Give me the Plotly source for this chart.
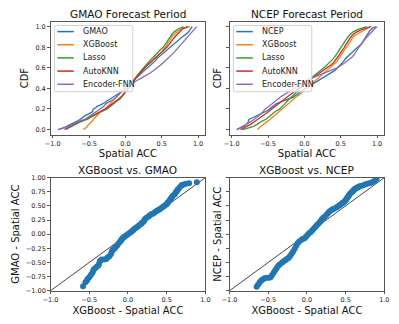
import numpy as np
import plotly.graph_objects as go

# 图像尺寸
W, H = 399, 324

# ---- GMAO 预报期 (排序后的 Spatial ACC) ----
gmao = [-0.92, -0.85, -0.82, -0.79, -0.76, -0.72, -0.68, -0.65, -0.62, -0.60,
        -0.57, -0.55, -0.51, -0.47, -0.45, -0.45, -0.44, -0.41, -0.39, -0.35,
        -0.31, -0.28, -0.26, -0.23, -0.20, -0.16, -0.13, -0.11, -0.09, -0.07,
        -0.05, -0.04, -0.02, 0.00, 0.02, 0.04, 0.06, 0.08, 0.10, 0.12,
        0.14, 0.16, 0.18, 0.20, 0.22, 0.24, 0.27, 0.29, 0.31, 0.33,
        0.35, 0.36, 0.38, 0.40, 0.42, 0.43, 0.45, 0.47, 0.49, 0.51,
        0.53, 0.55, 0.57, 0.60, 0.62, 0.64, 0.66, 0.68, 0.70, 0.72,
        0.74, 0.76, 0.78, 0.80, 0.83, 0.86, 0.87, 0.88, 0.89, 0.90, 0.92]
xgb_gmao = [-0.58, -0.55, -0.53, -0.52, -0.50, -0.48, -0.46, -0.45, -0.44, -0.42,
            -0.40, -0.38, -0.37, -0.36, -0.34, -0.31, -0.28, -0.26, -0.24, -0.22,
            -0.21, -0.20, -0.18, -0.16, -0.14, -0.12, -0.10, -0.09, -0.08, -0.07,
            -0.05, -0.04, -0.02, 0.00, 0.02, 0.04, 0.06, 0.07, 0.09, 0.11,
            0.13, 0.15, 0.17, 0.18, 0.20, 0.21, 0.22, 0.24, 0.26, 0.28,
            0.30, 0.32, 0.34, 0.36, 0.38, 0.40, 0.42, 0.44, 0.46, 0.48,
            0.50, 0.51, 0.52, 0.54, 0.55, 0.56, 0.57, 0.58, 0.60, 0.61,
            0.62, 0.63, 0.64, 0.65, 0.67, 0.69, 0.70, 0.72, 0.75, 0.79, 0.89]
lasso_gmao = [-0.82, -0.76, -0.70, -0.62, -0.52, -0.46, -0.40, -0.33, -0.25, -0.21,
              -0.17, -0.12, -0.07, -0.04, -0.01, 0.02, 0.05, 0.07, 0.09, 0.12,
              0.14, 0.16, 0.19, 0.21, 0.24, 0.27, 0.30, 0.34, 0.38, 0.41,
              0.44, 0.48, 0.52, 0.55, 0.57, 0.59, 0.61, 0.64, 0.67, 0.72, 0.80]
knn_gmao = [-0.84, -0.78, -0.70, -0.64, -0.55, -0.48, -0.42, -0.36, -0.28, -0.23,
            -0.18, -0.13, -0.09, -0.05, -0.02, 0.01, 0.04, 0.07, 0.10, 0.12,
            0.14, 0.17, 0.20, 0.23, 0.27, 0.30, 0.34, 0.38, 0.42, 0.46,
            0.49, 0.53, 0.57, 0.60, 0.62, 0.65, 0.68, 0.71, 0.74, 0.78, 0.86]
enc_gmao = [-0.93, -0.80, -0.72, -0.66, -0.56, -0.50, -0.45, -0.40, -0.34, -0.30,
            -0.27, -0.20, -0.15, -0.11, -0.08, -0.03, 0.02, 0.06, 0.10, 0.15,
            0.22, 0.29, 0.34, 0.39, 0.44, 0.48, 0.52, 0.56, 0.60, 0.64,
            0.67, 0.70, 0.73, 0.76, 0.79, 0.82, 0.85, 0.88, 0.91, 0.95, 0.98]

# ---- NCEP 预报期 ----
ncep = [-0.93, -0.89, -0.85, -0.82, -0.80, -0.78, -0.77, -0.77, -0.76, -0.72,
        -0.68, -0.64, -0.60, -0.56, -0.53, -0.50, -0.48, -0.46, -0.44, -0.42,
        -0.39, -0.35, -0.31, -0.26, -0.21, -0.16, -0.13, -0.10, -0.08, -0.07,
        -0.04, -0.01, 0.02, 0.04, 0.07, 0.10, 0.13, 0.16, 0.19, 0.22,
        0.26, 0.29, 0.31, 0.34, 0.37, 0.40, 0.42, 0.44, 0.45, 0.47,
        0.49, 0.51, 0.52, 0.54, 0.55, 0.56, 0.58, 0.60, 0.62, 0.64,
        0.66, 0.68, 0.70, 0.72, 0.74, 0.76, 0.77, 0.79, 0.80, 0.81,
        0.82, 0.83, 0.84, 0.85, 0.86, 0.88, 0.89, 0.90, 0.92, 0.94, 0.98]
xgb_ncep = [-0.65, -0.63, -0.61, -0.59, -0.57, -0.55, -0.52, -0.49, -0.47, -0.45,
            -0.43, -0.41, -0.39, -0.37, -0.35, -0.32, -0.30, -0.28, -0.26, -0.24,
            -0.22, -0.20, -0.18, -0.16, -0.14, -0.12, -0.10, -0.07, -0.05, -0.03,
            -0.01, 0.01, 0.03, 0.05, 0.07, 0.09, 0.11, 0.13, 0.15, 0.17,
            0.19, 0.21, 0.23, 0.25, 0.27, 0.29, 0.31, 0.33, 0.35, 0.38,
            0.40, 0.42, 0.43, 0.45, 0.46, 0.47, 0.49, 0.50, 0.51, 0.52,
            0.53, 0.54, 0.55, 0.56, 0.58, 0.59, 0.60, 0.61, 0.62, 0.63,
            0.65, 0.66, 0.67, 0.69, 0.72, 0.75, 0.78, 0.81, 0.84, 0.87, 0.90]
lasso_ncep = [-0.85, -0.72, -0.65, -0.60, -0.53, -0.49, -0.45, -0.40, -0.34, -0.30,
              -0.27, -0.24, -0.20, -0.16, -0.12, -0.09, -0.06, -0.03, 0.01, 0.05,
              0.09, 0.13, 0.17, 0.22, 0.27, 0.31, 0.35, 0.38, 0.41, 0.44,
              0.46, 0.48, 0.51, 0.53, 0.55, 0.57, 0.60, 0.63, 0.67, 0.74, 0.86]
knn_ncep = [-0.88, -0.80, -0.74, -0.69, -0.64, -0.58, -0.53, -0.49, -0.45, -0.40,
            -0.35, -0.31, -0.27, -0.22, -0.17, -0.13, -0.08, -0.04, 0.01, 0.06,
            0.11, 0.16, 0.21, 0.26, 0.32, 0.36, 0.40, 0.43, 0.46, 0.48,
            0.50, 0.53, 0.55, 0.57, 0.59, 0.61, 0.64, 0.67, 0.72, 0.80, 0.92]
enc_ncep = [-0.93, -0.86, -0.80, -0.74, -0.69, -0.64, -0.60, -0.57, -0.54, -0.49,
            -0.45, -0.41, -0.36, -0.31, -0.26, -0.20, -0.14, -0.09, -0.04, 0.02,
            0.10, 0.19, 0.28, 0.37, 0.45, 0.51, 0.56, 0.61, 0.65, 0.68,
            0.70, 0.73, 0.75, 0.78, 0.80, 0.83, 0.86, 0.89, 0.92, 0.96, 1.00]

names_g = ['GMAO', 'XGBoost', 'Lasso', 'AutoKNN', 'Encoder-FNN']
names_n = ['NCEP', 'XGBoost', 'Lasso', 'AutoKNN', 'Encoder-FNN']
colors = ['#1f77b4', '#ff7f0e', '#2ca02c', '#d62728', '#9467bd']
diag = [-1, 1]

# 子图位置 (像素 -> paper)
xl = [44 / W, 204 / W]
xr = [229 / W, 389 / W]
yt = [(H - 134) / H, (H - 18) / H]
yb = [(H - 294) / H, (H - 178) / H]

fig = go.Figure()


def ecdf(vals):
    v = np.sort(vals)
    return v, np.arange(len(v)) / (len(v) - 1)


# CDF 曲线
for vals, name, c in zip([gmao, xgb_gmao, lasso_gmao, knn_gmao, enc_gmao], names_g, colors):
    x, y = ecdf(vals)
    fig.add_trace(go.Scatter(x=x, y=y, mode='lines', name=name,
                             line=dict(color=c, width=1.3), xaxis='x', yaxis='y'))
for vals, name, c in zip([ncep, xgb_ncep, lasso_ncep, knn_ncep, enc_ncep], names_n, colors):
    x, y = ecdf(vals)
    fig.add_trace(go.Scatter(x=x, y=y, mode='lines', name=name,
                             line=dict(color=c, width=1.3), xaxis='x2', yaxis='y2'))

# QQ 图
for xa, ya, a, b in [('x3', 'y3', xgb_gmao, gmao), ('x4', 'y4', xgb_ncep, ncep)]:
    fig.add_trace(go.Scatter(x=diag, y=diag, mode='lines', line=dict(color='#444', width=1),
                             xaxis=xa, yaxis=ya))
    fig.add_trace(go.Scatter(x=np.sort(a), y=np.sort(b), mode='markers',
                             marker=dict(color='#1f77b4', size=6), xaxis=xa, yaxis=ya))

AX = dict(showline=True, mirror=True, linecolor='#555', linewidth=1, ticks='outside',
          ticklen=2.5, tickwidth=1, tickcolor='#555', showgrid=False, zeroline=False,
          tickfont=dict(size=6.5, color='#222'), title_font=dict(size=10, color='#111'))

fig.update_layout(
    width=W, height=H, margin=dict(l=0, r=0, t=0, b=0), showlegend=False,
    paper_bgcolor='white', plot_bgcolor='white',
    font=dict(family='DejaVu Sans', color='#111'),
    xaxis=dict(AX, domain=xl, range=[-1.03, 1.10], tick0=-1, dtick=0.5, tickformat='.1f',
               anchor='y', title=dict(text='Spatial ACC', standoff=3)),
    yaxis=dict(AX, domain=yt, range=[-0.05, 1.05], tick0=0, dtick=0.2, tickformat='.1f',
               anchor='x', title=dict(text='CDF', standoff=4)),
    xaxis2=dict(AX, domain=xr, range=[-1.03, 1.10], tick0=-1, dtick=0.5, tickformat='.1f',
                anchor='y2', title=dict(text='Spatial ACC', standoff=3)),
    yaxis2=dict(AX, domain=yt, range=[-0.05, 1.05], tick0=0, dtick=0.2, showticklabels=False,
                anchor='x2', title=dict(text='CDF', standoff=2)),
    xaxis3=dict(AX, domain=xl, range=[-1, 1], tick0=-1, dtick=0.5, tickformat='.1f',
                anchor='y3', title=dict(text='XGBoost - Spatial ACC', standoff=3)),
    yaxis3=dict(AX, domain=yb, range=[-1, 1], tick0=-1, dtick=0.25, tickformat='.2f',
                anchor='x3', title=dict(text='GMAO - Spatial ACC', standoff=4)),
    xaxis4=dict(AX, domain=xr, range=[-1, 1], tick0=-1, dtick=0.5, tickformat='.1f',
                anchor='y4', title=dict(text='XGBoost - Spatial ACC', standoff=3)),
    yaxis4=dict(AX, domain=yb, range=[-1, 1], tick0=-1, dtick=0.25, showticklabels=False,
                anchor='x4', title=dict(text='NCEP - Spatial ACC', standoff=2)),
)

# 子图标题
titles = [('GMAO Forecast Period', xl, yt), ('NCEP Forecast Period', xr, yt),
          ('XGBoost vs. GMAO', xl, yb), ('XGBoost vs. NCEP', xr, yb)]
for text, xd, yd in titles:
    fig.add_annotation(text=text, x=(xd[0] + xd[1]) / 2, y=yd[1] + 8 / H, xref='paper', yref='paper',
                       xanchor='center', yanchor='middle', showarrow=False,
                       font=dict(size=10.5, color='#111'))


# 手工图例 (matplotlib 风格)
def add_legend(xd, yd, labels):
    px = lambda dx: xd[0] + dx / W
    py = lambda dy: yd[1] - dy / H
    x0, x1, y0, y1 = px(4), px(85), py(72), py(4)
    rx, ry = 2 / W, 2 / H
    path = (f'M {x0 + rx},{y0} L {x1 - rx},{y0} Q {x1},{y0} {x1},{y0 + ry} '
            f'L {x1},{y1 - ry} Q {x1},{y1} {x1 - rx},{y1} L {x0 + rx},{y1} '
            f'Q {x0},{y1} {x0},{y1 - ry} L {x0},{y0 + ry} Q {x0},{y0} {x0 + rx},{y0} Z')
    fig.add_shape(type='path', path=path, xref='paper', yref='paper',
                  fillcolor='rgba(255,255,255,0.8)', line=dict(color='#d0d0d0', width=1))
    for k, (lab, c) in enumerate(zip(labels, colors)):
        dy = 10.3 + k * 13.5
        fig.add_shape(type='line', x0=px(7), x1=px(24), y0=py(dy), y1=py(dy), xref='paper',
                      yref='paper', line=dict(color=c, width=1.5))
        fig.add_annotation(text=lab, x=px(31), y=py(dy), xref='paper', yref='paper',
                           xanchor='left', yanchor='middle', showarrow=False,
                           font=dict(size=8, color='#222'))


add_legend(xl, yt, names_g)
add_legend(xr, yt, names_n)

# 去掉页面默认边距, 隐藏工具栏
fig.write_html("out.html", config={'displayModeBar': False},
               post_script="document.body.style.margin='0';")
